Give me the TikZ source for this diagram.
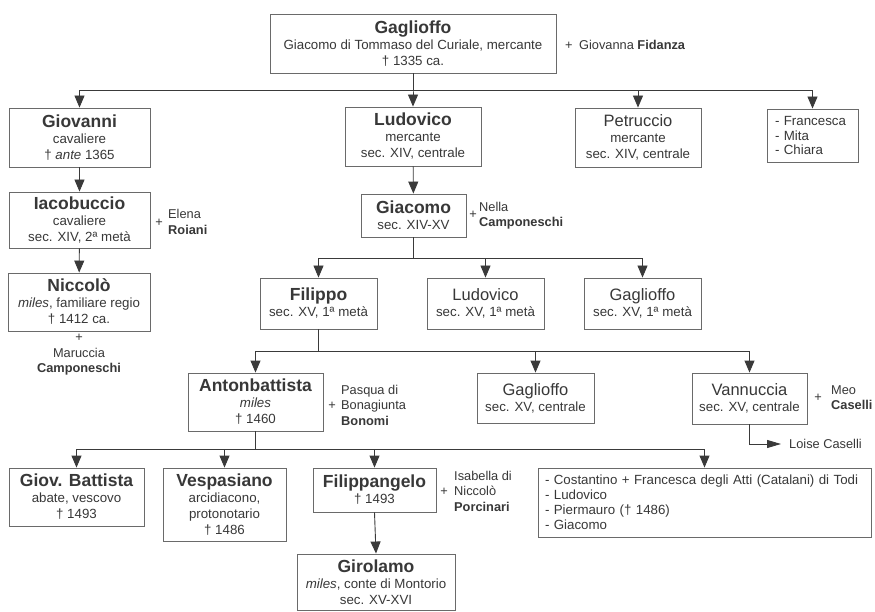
\documentclass[tikz,border=0pt]{standalone}
\usepackage{fontspec}
\setmainfont{Liberation Sans}
\usetikzlibrary{arrows.meta}
\definecolor{txt}{HTML}{383838}
\definecolor{edge}{HTML}{6a6a6a}
\definecolor{wire}{HTML}{3a3a3a}
\newcommand\nmf{\fontsize{17.5}{20}\selectfont\bfseries}
\newcommand\txf{\fontsize{13.3}{16}\selectfont}
\newcommand\spf{\fontsize{12.8}{15.5}\selectfont}
\begin{document}
\begin{tikzpicture}[x=1pt,y=-1pt,
 box/.style={draw=edge, line width=0.9pt, fill=white, align=center, inner sep=0pt, font=\txf, text=txt},
 lbox/.style={draw=edge, line width=0.9pt, fill=white, align=left, inner ysep=0pt, font=\txf, text=txt},
 spouse/.style={align=left, inner sep=0pt, font=\spf, text=txt, anchor=west},
 plus/.style={inner sep=0pt, font=\spf, text=txt},
 arr/.style={draw=wire, line width=0.9pt, -{Triangle[length=12pt,width=10pt]}},
 ln/.style={draw=wire, line width=0.9pt}]
\useasboundingbox[fill=white] (0,0) rectangle (875,612);

% generation 1
\node[box, minimum width=286pt, minimum height=59pt] (gag) at (413,43.5)
 {{\nmf Gaglioffo}\\Giacomo di Tommaso del Curiale, mercante\\† 1335 ca.};
\node[spouse] (gagsp) at (565,45) {+\enspace Giovanna \textbf{Fidanza}};

% generation 2
\node[box, minimum width=141pt, minimum height=59pt] (giov) at (79.5,137.5)
 {{\nmf Giovanni}\\cavaliere\\† \textit{ante} 1365};
\node[box, minimum width=136pt, minimum height=59pt] (ludo) at (413,136.5)
 {{\nmf Ludovico}\\mercante\\sec. XIV, centrale};
\node[box, minimum width=126pt, minimum height=59pt] (petr) at (638,137.5)
 {{\fontsize{16.5}{19}\selectfont Petruccio}\\mercante\\sec. XIV, centrale};
\node[lbox, minimum width=91pt, minimum height=53pt, text width=75pt, inner xsep=8pt, font=\fontsize{13.3}{14.5}\selectfont] (sis) at (812.5,135.5)
 {- Francesca\\- Mita\\- Chiara};

% generation 3
\node[box, minimum width=141pt, minimum height=56pt] (iaco) at (79.5,220)
 {{\nmf Iacobuccio}\\cavaliere\\sec. XIV, 2ª metà};
\node[plus] (iacop) at (159,223) {+};
\node[spouse] (iacosp) at (168,222) {Elena\\\textbf{Roiani}};

\node[box, minimum width=105pt, minimum height=43pt] (giac) at (413.5,215.5)
 {{\nmf Giacomo}\\sec. XIV-XV};
\node[plus] (giacp) at (473,215) {+};
\node[spouse] (giacsp) at (479,215.5) {Nella\\\textbf{Camponeschi}};

% generation 4
\node[box, minimum width=142pt, minimum height=58pt] (nicc) at (79,302)
 {{\nmf Niccolò}\\\textit{miles}, familiare regio\\† 1412 ca.};
\node[spouse, anchor=center, align=center] (niccsp) at (79,355) {+\\Maruccia\\\textbf{Camponeschi}};

\node[box, minimum width=117pt, minimum height=51pt] (fil) at (318.5,303.5)
 {{\nmf Filippo}\\sec. XV, 1ª metà};
\node[box, minimum width=117pt, minimum height=51pt] (lud2) at (485.5,303.5)
 {{\fontsize{16.5}{19}\selectfont Ludovico}\\sec. XV, 1ª metà};
\node[box, minimum width=117pt, minimum height=51pt] (gag2) at (642.5,303.5)
 {{\fontsize{16.5}{19}\selectfont Gaglioffo}\\sec. XV, 1ª metà};

% generation 5
\node[box, minimum width=135pt, minimum height=58pt] (anton) at (255.5,402)
 {{\nmf Antonbattista}\\\textit{miles}\\† 1460};
\node[plus] (antonp) at (332,406) {+};
\node[spouse] (antonsp) at (341,405) {Pasqua di\\Bonagiunta\\\textbf{Bonomi}};

\node[box, minimum width=117pt, minimum height=50pt] (gag3) at (535.5,398)
 {{\fontsize{16.5}{19}\selectfont Gaglioffo}\\sec. XV, centrale};
\node[box, minimum width=115pt, minimum height=51pt] (vann) at (749.5,398.5)
 {{\fontsize{16.5}{19}\selectfont Vannuccia}\\sec. XV, centrale};
\node[plus] (vannp) at (818,398) {+};
\node[spouse] (vannsp) at (831,397.5) {Meo\\\textbf{Caselli}};
\node[spouse, inner xsep=8pt] (loise) at (781,444) {Loise Caselli};

% generation 6
\node[box, minimum width=135pt, minimum height=58pt] (gb) at (76.5,497)
 {{\nmf Giov. Battista}\\abate, vescovo\\† 1493};
\node[box, minimum width=123pt, minimum height=73pt] (vesp) at (224.5,504.5)
 {{\nmf Vespasiano}\\arcidiacono,\\protonotario\\† 1486};
\node[box, minimum width=123pt, minimum height=44pt] (filang) at (374.5,490)
 {{\nmf Filippangelo}\\† 1493};
\node[plus] (filangp) at (444,492) {+};
\node[spouse] (filangsp) at (454,491) {Isabella di\\Niccolò\\\textbf{Porcinari}};
\node[lbox, minimum width=333pt, minimum height=69pt, text width=319pt, inner xsep=7pt, font=\fontsize{13.3}{15}\selectfont] (big) at (704.5,502.5)
 {- Costantino + Francesca degli Atti (Catalani) di Todi\\- Ludovico\\- Piermauro († 1486)\\- Giacomo};

% generation 7
\node[box, minimum width=158pt, minimum height=56pt] (giro) at (376,582)
 {{\nmf Girolamo}\\\textit{miles}, conte di Montorio\\sec. XV-XVI};

% connectors
\coordinate (b1) at (413,90);
\draw[arr] (gag.south) -- (b1) -| (giov.north);
\draw[arr] (gag.south) -- (b1) -| (ludo.north);
\draw[arr] (gag.south) -- (b1) -| (petr.north);
\draw[arr] (gag.south) -- (b1) -| (sis.north);

\draw[arr] (giov) -- (iaco);
\draw[arr] (iaco) -- (nicc);
\draw[arr] (ludo) -- (giac);

\coordinate (b2) at (413.5,258);
\draw[arr] (giac.south) -- (b2) -| (fil.north);
\draw[arr] (giac.south) -- (b2) -| (lud2.north);
\draw[arr] (giac.south) -- (b2) -| (gag2.north);

\coordinate (b3) at (318.5,351);
\draw[arr] (fil.south) -- (b3) -| (anton.north);
\draw[arr] (fil.south) -- (b3) -| (gag3.north);
\draw[arr] (fil.south) -- (b3) -| (vann.north);

\draw[draw=wire, line width=0.9pt, -{Triangle[length=14pt,width=8pt]}] (vann.south) |- (loise.west);

\coordinate (b4) at (255.5,449);
\draw[arr] (anton.south) -- (b4) -| (gb.north);
\draw[arr] (anton.south) -- (b4) -| (vesp.north);
\draw[arr] (anton.south) -- (b4) -| (filang.north);
\draw[arr] (anton.south) -- (b4) -| (big.north);

\draw[arr] (filang.south) -- (giro.north);
\end{tikzpicture}
\end{document}
